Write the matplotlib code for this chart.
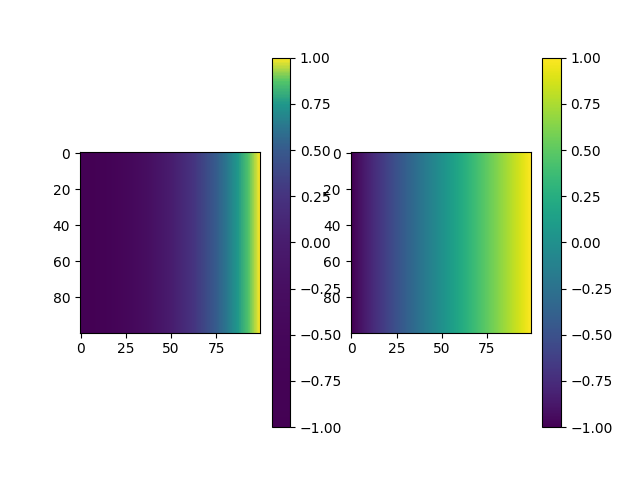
import numpy as np
import matplotlib
matplotlib.use('Agg')
import matplotlib.pyplot as plt
from matplotlib.colors import LinearSegmentedColormap

#--------------------------------------------------- data: horizontal gradient, 100x100
vmin, vmax = -1.0, 1.0
ncols, nrows = 100, 100

lev_vals  = [-1.0, -0.75, -0.5, -0.25, 0.0, 0.25, 0.5, 0.625, 0.75, 0.875, 1.0]
lev_fracs = [0.0, 0.006, 0.017, 0.037, 0.076, 0.148, 0.28, 0.387, 0.53, 0.73, 1.0]

col_vals = np.linspace(vmin, vmax, ncols)
img = np.tile(col_vals, (nrows, 1))

#--------------------------------------------------- stretched colormap for the left panel
vir = plt.get_cmap('viridis')
pos = [(v - vmin)/(vmax - vmin) for v in lev_vals]
cmap_left = LinearSegmentedColormap.from_list('vir_stretch', list(zip(pos, [vir(f) for f in lev_fracs])), N=256)

fig, axs = plt.subplots(1, 2, figsize=(6.4, 4.8), dpi=100)

im1 = axs[0].imshow(img, cmap=cmap_left, vmin=vmin, vmax=vmax)
fig.colorbar(im1, ax=axs[0])

im2 = axs[1].imshow(img, cmap='viridis', vmin=vmin, vmax=vmax)
fig.colorbar(im2, ax=axs[1])

fig.savefig('out.png')
